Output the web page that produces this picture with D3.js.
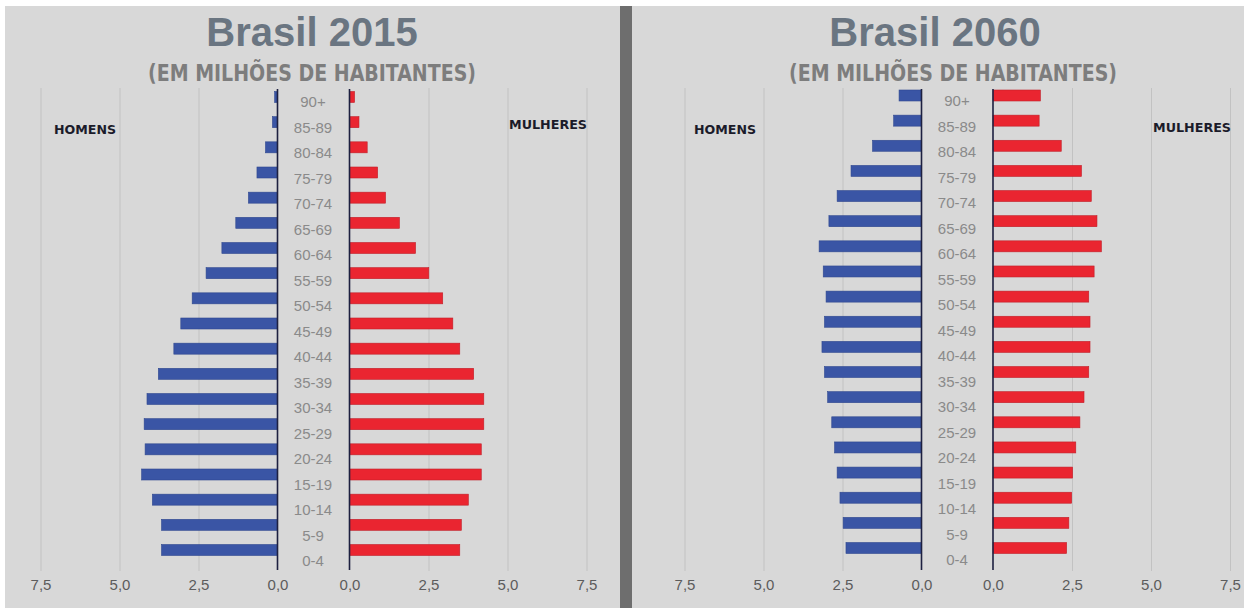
<!DOCTYPE html>
<html>
<head>
<meta charset="utf-8">
<script src="https://cdn.jsdelivr.net/npm/d3@7"></script>
<style>
  html, body { margin: 0; padding: 0; background: #fff; }
  svg { display: block; }
</style>
</head>
<body>
<svg id="chart" width="1244" height="608"></svg>
<script>
// age groups, top to bottom
var ages = ["90+", "85-89", "80-84", "75-79", "70-74", "65-69", "60-64", "55-59", "50-54",
            "45-49", "40-44", "35-39", "30-34", "25-29", "20-24", "15-19", "10-14", "5-9", "0-4"];

// millions of inhabitants
var homens2015   = [0.09, 0.16, 0.38, 0.65, 0.92, 1.32, 1.76, 2.26, 2.70, 3.06, 3.28, 3.77, 4.13, 4.22, 4.19, 4.30, 3.96, 3.67, 3.67];
var mulheres2015 = [0.16, 0.30, 0.56, 0.89, 1.14, 1.58, 2.09, 2.51, 2.95, 3.27, 3.49, 3.93, 4.25, 4.25, 4.17, 4.17, 3.76, 3.54, 3.49];
var homens2060   = [0.71, 0.88, 1.55, 2.23, 2.67, 2.93, 3.24, 3.11, 3.02, 3.07, 3.15, 3.07, 2.97, 2.84, 2.75, 2.67, 2.58, 2.48, 2.39];
var mulheres2060 = [1.50, 1.46, 2.16, 2.80, 3.11, 3.29, 3.43, 3.20, 3.03, 3.07, 3.07, 3.03, 2.88, 2.75, 2.62, 2.52, 2.49, 2.40, 2.33];

var tickValues = [0, 2.5, 5, 7.5];
var titles = ["Brasil 2015", "Brasil 2060"];
var subtitle = "(EM MILHÕES DE HABITANTES)";

var ptBR = d3.formatLocale({decimal: ",", thousands: ".", grouping: [3], currency: ["R$", ""]});
var fmt = ptBR.format(".1f");

var svg = d3.select("#chart");

// background
svg.append("rect").attr("x", 5).attr("y", 6).attr("width", 1239).attr("height", 602).attr("fill", "#d8d8d8");
svg.append("rect").attr("x", 620).attr("y", 6).attr("width", 12).attr("height", 602).attr("fill", "#6e6e6e");

var panels = [
  {title: titles[0], homens: homens2015, mulheres: mulheres2015,
   mZero: 277.5, fZero: 349.5, titleX: 312, subX: 312, labelX: 313,
   barTop: 97, barBottom: 550, lblTop: 102, lblBottom: 561,
   homensX: 85, homensY: 134, mulheresX: 548, mulheresY: 129},
  {title: titles[1], homens: homens2060, mulheres: mulheres2060,
   mZero: 921.5, fZero: 993, titleX: 935, subX: 953, labelX: 957,
   barTop: 95.5, barBottom: 548, lblTop: 101, lblBottom: 560,
   homensX: 725, homensY: 134, mulheresX: 1192, mulheresY: 132}
];

var pxPerUnit = 31.6;
var gridTop = 88, gridBottom = 571;

panels.forEach(function(p) {
  var g = svg.append("g");

  var xM = d3.scaleLinear().domain([0, 7.5]).range([p.mZero, p.mZero - 7.5 * pxPerUnit]);
  var xF = d3.scaleLinear().domain([0, 7.5]).range([p.fZero, p.fZero + 7.5 * pxPerUnit]);
  var y = d3.scalePoint().domain(ages).range([p.barTop, p.barBottom]);
  var yl = d3.scalePoint().domain(ages).range([p.lblTop, p.lblBottom]);
  var barH = 11;

  // gridlines
  [xM, xF].forEach(function(x) {
    g.append("g")
      .attr("transform", "translate(0," + gridBottom + ")")
      .call(d3.axisBottom(x).tickValues([2.5, 5, 7.5]).tickSize(-(gridBottom - gridTop)).tickFormat(""))
      .call(function(a) {
        a.select(".domain").remove();
        a.selectAll(".tick line").attr("stroke", "#c2c2c2").attr("stroke-width", 1);
      });
  });

  // bars
  g.selectAll(".bar-m")
    .data(p.homens)
    .enter().append("rect")
      .attr("class", "bar-m")
      .attr("x", function(d) { return xM(d); })
      .attr("y", function(d, i) { return y(ages[i]) - barH / 2; })
      .attr("width", function(d) { return xM(0) - xM(d); })
      .attr("height", barH)
      .attr("fill", "#3a55a5")
      .attr("stroke", "#30488f")
      .attr("stroke-width", 0.6);

  g.selectAll(".bar-f")
    .data(p.mulheres)
    .enter().append("rect")
      .attr("class", "bar-f")
      .attr("x", xF(0))
      .attr("y", function(d, i) { return y(ages[i]) - barH / 2; })
      .attr("width", function(d) { return xF(d) - xF(0); })
      .attr("height", barH)
      .attr("fill", "#ea2530")
      .attr("stroke", "#c11f29")
      .attr("stroke-width", 0.6);

  // zero lines
  [p.mZero, p.fZero].forEach(function(x0) {
    g.append("line")
      .attr("x1", x0).attr("x2", x0)
      .attr("y1", 89).attr("y2", 570)
      .attr("stroke", "#1d2040").attr("stroke-width", 1.6);
  });

  // age labels
  g.selectAll(".age")
    .data(ages)
    .enter().append("text")
      .attr("class", "age")
      .attr("x", p.labelX)
      .attr("y", function(d) { return yl(d); })
      .attr("dy", "0.36em")
      .attr("text-anchor", "middle")
      .attr("font-family", "Liberation Sans, Arial, sans-serif")
      .attr("font-size", 15)
      .attr("fill", "#8a8a8a")
      .text(function(d) { return d; });

  // x tick labels
  [xM, xF].forEach(function(x) {
    g.append("g")
      .attr("transform", "translate(0,574)")
      .call(d3.axisBottom(x).tickValues(tickValues).tickSize(0).tickPadding(5).tickFormat(fmt))
      .call(function(a) {
        a.select(".domain").remove();
        a.selectAll("text")
          .attr("font-family", "Liberation Sans, Arial, sans-serif")
          .attr("font-size", 15)
          .attr("fill", "#5c5c5c");
      });
  });

  // titles
  g.append("text")
    .attr("x", p.titleX).attr("y", 46)
    .attr("text-anchor", "middle")
    .attr("font-family", "Liberation Sans, Arial, sans-serif")
    .attr("font-weight", "bold")
    .attr("font-size", 40)
    .attr("fill", "#6a7581")
    .text(p.title);

  g.append("text")
    .attr("x", p.subX).attr("y", 81)
    .attr("text-anchor", "middle")
    .attr("font-family", "DejaVu Sans Condensed, DejaVu Sans, sans-serif")
    .attr("font-stretch", "condensed")
    .attr("font-weight", "bold")
    .attr("font-size", 22.5)
    .attr("fill", "#7d7d7d")
    .attr("textLength", 328)
    .attr("lengthAdjust", "spacingAndGlyphs")
    .text(subtitle);

  g.append("text")
    .attr("x", p.homensX).attr("y", p.homensY)
    .attr("text-anchor", "middle")
    .attr("font-family", "DejaVu Sans Condensed, DejaVu Sans, sans-serif")
    .attr("font-weight", "bold")
    .attr("font-size", 13)
    .attr("fill", "#1b1b2a")
    .attr("textLength", 62)
    .attr("lengthAdjust", "spacingAndGlyphs")
    .text("HOMENS");

  g.append("text")
    .attr("x", p.mulheresX).attr("y", p.mulheresY)
    .attr("text-anchor", "middle")
    .attr("font-family", "DejaVu Sans Condensed, DejaVu Sans, sans-serif")
    .attr("font-weight", "bold")
    .attr("font-size", 13)
    .attr("fill", "#1b1b2a")
    .attr("textLength", 78)
    .attr("lengthAdjust", "spacingAndGlyphs")
    .text("MULHERES");
});
</script>
</body>
</html>
